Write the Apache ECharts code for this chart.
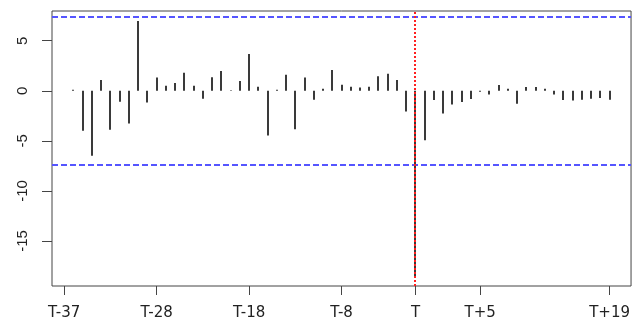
<!DOCTYPE html>
<html>
<head>
<meta charset="utf-8">
<script src="https://cdn.jsdelivr.net/npm/echarts@6/dist/echarts.min.js"></script>
<style>
  html, body { margin: 0; padding: 0; background: #fff; }
  #chart { width: 633px; height: 323px; }
</style>
</head>
<body>
<div id="chart"></div>
<script>
// Abnormal values per day in the event window (T-37 ... T+21), plotted at x = 1..59
const values = [
  0.1, -4.0, -6.5, 1.07, -3.9, -1.1, -3.27, 6.97, -1.17, 1.33,
  0.5, 0.77, 1.8, 0.5, -0.8, 1.35, 1.97, 0.05, 0.97, 3.67,
  0.4, -4.47, 0.1, 1.6, -3.83, 1.33, -0.9, 0.2, 2.07, 0.6,
  0.4, 0.33, 0.4, 1.45, 1.7, 1.07, -2.07, -18.6, -4.93, -0.93,
  -2.27, -1.37, -1.13, -0.83, -0.1, -0.37, 0.57, 0.2, -1.3, 0.37,
  0.37, 0.2, -0.37, -0.93, -0.97, -0.9, -0.8, -0.73, -0.9
];

// Axis ticks
const xTickAt = [0, 10, 20, 30, 38, 45, 59];
const xTickLabels = ['T-37', 'T-28', 'T-18', 'T-8', 'T', 'T+5', 'T+19'];
const yTickAt = [-15, -10, -5, 0, 5];

// Reference lines: significance band and the event day
const bandLimits = [7.33, -7.33];
const eventDay = [38];

const points = values.map((v, i) => [i + 1, v]);

const chart = echarts.init(document.getElementById('chart'), null, { renderer: 'canvas' });

// centre a 2px line on a pixel pair so it renders as a solid two-pixel stroke
const pairCentre = v => 2 * Math.floor(v / 2) + 1;
const evenUp = v => 2 * Math.ceil(v / 2);
const evenDown = v => 2 * Math.floor(v / 2);

chart.setOption({
  animation: false,
  backgroundColor: '#ffffff',
  grid: {
    left: 52, right: 1, top: 11, bottom: 37,
    show: true, borderColor: '#454545', borderWidth: 1, backgroundColor: 'transparent'
  },
  xAxis: {
    type: 'value',
    min: -1.32, max: 61.32,
    splitLine: { show: false },
    axisLine: { show: false, onZero: false },
    axisTick: {
      show: true, length: 9, customValues: xTickAt,
      lineStyle: { color: '#454545', width: 1 }
    },
    axisLabel: {
      customValues: xTickAt,
      formatter: v => xTickLabels[xTickAt.indexOf(v)] || '',
      fontFamily: 'DejaVu Sans', fontSize: 15, color: '#222', margin: 20,
      showMinLabel: true, showMaxLabel: true
    }
  },
  yAxis: {
    type: 'value',
    min: -19.5, max: 7.97,
    splitLine: { show: false },
    axisLine: { show: false, onZero: false },
    axisTick: {
      show: true, length: 10, customValues: yTickAt,
      lineStyle: { color: '#454545', width: 1 }
    },
    axisLabel: {
      customValues: yTickAt,
      rotate: 90,
      fontFamily: 'Liberation Sans', fontSize: 15, color: '#222', margin: 22
    }
  },
  series: [
    {
      // vertical spikes from zero to each value
      type: 'custom',
      data: points,
      renderItem: (params, api) => {
        const x = api.value(0);
        const p0 = api.coord([x, 0]);
        const p1 = api.coord([x, api.value(1)]);
        const px = Math.round(p0[0]);
        return {
          type: 'line',
          shape: { x1: px, y1: p0[1], x2: px, y2: p1[1] },
          style: { stroke: '#3a3a3a', lineWidth: 2, lineCap: 'butt' }
        };
      },
      z: 2
    },
    {
      // dashed horizontal band limits across the plot
      type: 'custom',
      data: bandLimits.map(v => [v]),
      encode: { y: 0 },
      renderItem: (params, api) => {
        const cs = params.coordSys;
        const y = pairCentre(api.coord([0, api.value(0)])[1]);
        return {
          type: 'line',
          shape: { x1: cs.x, y1: y, x2: cs.x + cs.width, y2: y },
          style: { stroke: '#5555ff', lineWidth: 2, lineDash: [6, 3] }
        };
      },
      z: 4
    },
    {
      // dotted vertical line at the event day
      type: 'custom',
      data: eventDay.map(v => [v]),
      encode: { x: 0 },
      renderItem: (params, api) => {
        const cs = params.coordSys;
        const x = pairCentre(api.coord([api.value(0), 0])[0]);
        return {
          type: 'line',
          shape: { x1: x, y1: evenUp(cs.y), x2: x, y2: evenDown(cs.y + cs.height) },
          style: { stroke: '#ff2020', lineWidth: 2, lineDash: [2, 2], lineCap: 'butt' }
        };
      },
      z: 5
    }
  ]
});
</script>
</body>
</html>
